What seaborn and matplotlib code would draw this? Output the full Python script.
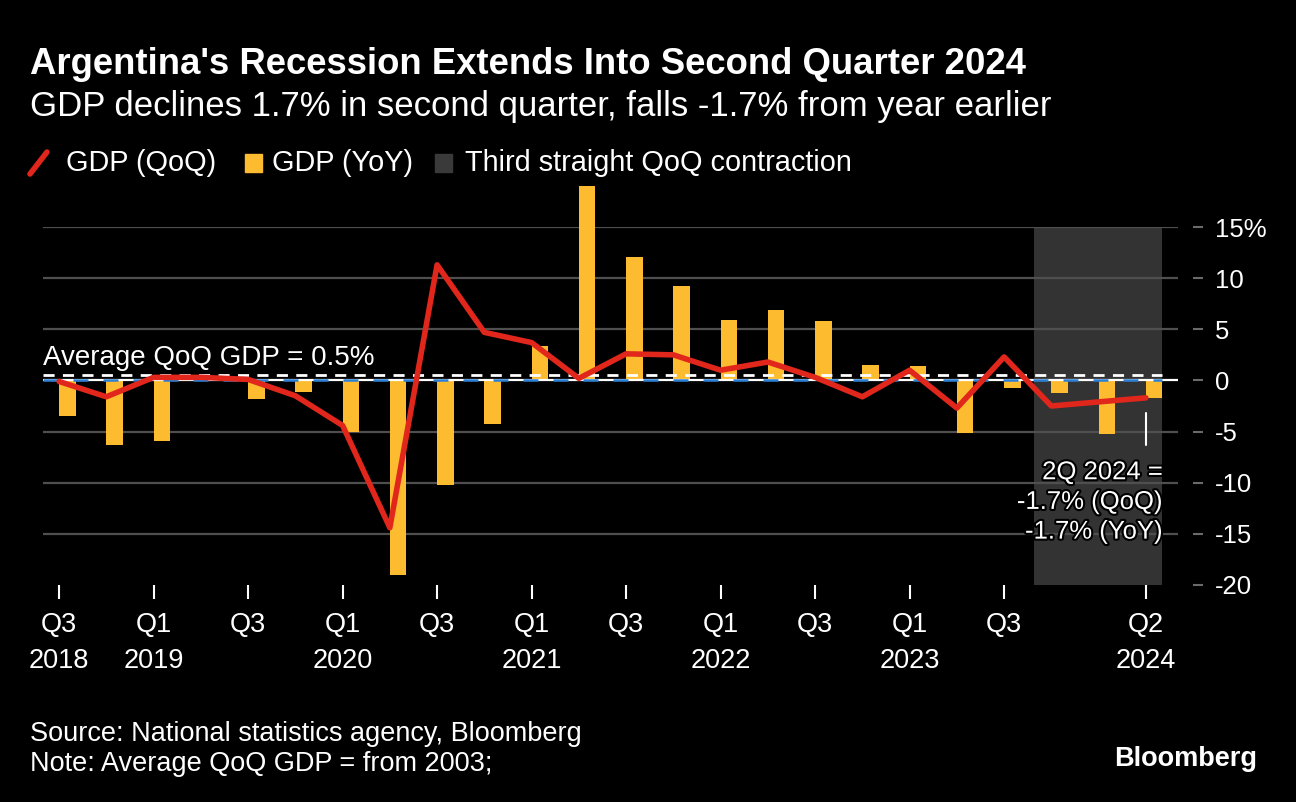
import numpy as np
import pandas as pd
import matplotlib
matplotlib.use("Agg")
import matplotlib.pyplot as plt
import matplotlib.patheffects as pe
from matplotlib.patches import Rectangle
from matplotlib.lines import Line2D
import seaborn as sns

# ---------------- data ----------------
quarters = ["Q3 2018", "Q4 2018", "Q1 2019", "Q2 2019", "Q3 2019", "Q4 2019",
            "Q1 2020", "Q2 2020", "Q3 2020", "Q4 2020", "Q1 2021", "Q2 2021",
            "Q3 2021", "Q4 2021", "Q1 2022", "Q2 2022", "Q3 2022", "Q4 2022",
            "Q1 2023", "Q2 2023", "Q3 2023", "Q4 2023", "Q1 2024", "Q2 2024"]
gdp_yoy = [-3.5, -6.3, -5.9, 0.3, -1.8, -1.1, -5.0, -19.0, -10.2, -4.3, 3.4, 19.0,
           12.1, 9.2, 5.9, 6.9, 5.8, 1.5, 1.4, -5.1, -0.75, -1.2, -5.2, -1.7]
gdp_qoq = [-0.1, -1.6, 0.3, 0.3, 0.1, -1.5, -4.4, -14.4, 11.3, 4.7, 3.7, 0.2,
           2.6, 2.5, 1.0, 1.8, 0.3, -1.6, 1.0, -2.7, 2.3, -2.5, -2.1, -1.7]
avg_qoq = 0.5
shade_range = (20.63, 23.34)   # Third straight QoQ contraction
xtick_pos = [0, 2, 4, 6, 8, 10, 12, 14, 16, 18, 20, 23]
xtick_labels = ["Q3\n2018", "Q1\n2019", "Q3", "Q1\n2020", "Q3", "Q1\n2021", "Q3",
                "Q1\n2022", "Q3", "Q1\n2023", "Q3", "Q2\n2024"]
ytick_vals = [15, 10, 5, 0, -5, -10, -15, -20]
ytick_labels = ["15%", "10", "5", "0", "-5", "-10", "-15", "-20"]
grid_vals = [15, 10, 5, -5, -10, -15]

title = "Argentina's Recession Extends Into Second Quarter 2024"
subtitle = "GDP declines 1.7% in second quarter, falls -1.7% from year earlier"
legend_labels = ["GDP (QoQ)", "GDP (YoY)", "Third straight QoQ contraction"]
annot = "2Q 2024 =\n-1.7% (QoQ)\n-1.7% (YoY)"
source = "Source: National statistics agency, Bloomberg"
note = "Note: Average QoQ GDP = from 2003;"

# ---------------- style ----------------
RED = "#E1261C"
YELLOW = "#FDBB30"
SHADE = "#333333"
GRID = "#4f4f4f"
BLUE = "#2a7fd4"

sns.set_theme(style="dark")
plt.rcParams["font.family"] = ["Liberation Sans", "DejaVu Sans"]
plt.rcParams["axes.facecolor"] = "black"
plt.rcParams["figure.facecolor"] = "black"

W, H = 1296, 802
fig = plt.figure(figsize=(W / 100, H / 100), dpi=100)


def fx(px):
    return px / W


def fy(py):
    return 1 - py / H


ax = fig.add_axes([fx(43), fy(585), (1178 - 43) / W, (585 - 227) / H])
ax.set_facecolor("black")

idx = np.arange(len(quarters))
df = pd.DataFrame({"idx": idx, "quarter": quarters, "yoy": gdp_yoy, "qoq": gdp_qoq})

# bars
bw = 0.35
sns.barplot(data=df, x="idx", y="yoy", native_scale=True, width=bw, color=YELLOW,
            saturation=1, errorbar=None, ax=ax, zorder=2)
for cont in ax.containers:
    for p in cont:
        p.set_x(p.get_x() + bw / 2)
        p.set_clip_on(False)
        p.set_linewidth(0)

# shaded region
ax.axvspan(shade_range[0], shade_range[1], color=SHADE, zorder=0, lw=0)

# gridlines
for g in grid_vals:
    ax.axhline(g, color=GRID, lw=1.6, zorder=1)

# zero line and average line
ax.axhline(0, color="white", lw=1.6, zorder=3)
ax.plot([-0.34, 23.34], [0, 0], color=BLUE, lw=1.8, dashes=(6, 6), zorder=3.1)
ax.plot([-0.34, 23.34], [avg_qoq, avg_qoq], color="white", lw=2.0, dashes=(4, 3), zorder=3.2)
ax.text(0 - 0.34, avg_qoq + 1.0, f"Average QoQ GDP = {avg_qoq}%", color="white",
        fontsize=20, ha="left", va="baseline", zorder=5)

# QoQ line
sns.lineplot(data=df, x="idx", y="qoq", color=RED, lw=4.0, ax=ax, zorder=4)

# annotation
last = len(quarters) - 1
ax.plot([last, last], [-3.2, -6.3], color="white", lw=1.5, zorder=5)
ax.text(last + 0.36, -7.8, annot, color="white", fontsize=18.5, ha="right", va="top",
        linespacing=1.3, zorder=6,
        path_effects=[pe.withStroke(linewidth=3, foreground="black")])

# axes limits / ticks
ax.set_xlim(-0.34, 23.68)
ax.set_ylim(-20, 15)
ax.set_xlabel("")
ax.set_ylabel("")
for s in ax.spines.values():
    s.set_visible(False)
ax.set_xticks(xtick_pos)
ax.set_xticklabels(xtick_labels, color="white", fontsize=19.5, linespacing=1.5)
ax.tick_params(axis="x", length=10, width=1.5, color="white", pad=9.5, direction="out",
               bottom=True)
ax.yaxis.tick_right()
ax.spines["right"].set_position(("outward", 11))
ax.set_yticks(ytick_vals)
ax.set_yticklabels(ytick_labels, color="white", fontsize=18.5)
ax.tick_params(axis="y", length=7.5, width=1.5, color="#6a6a6a", pad=8, direction="out",
               right=True, left=False)
ax.grid(False)

# ---------------- titles ----------------
fig.text(fx(30), fy(74), title, color="white", fontsize=26.3, fontweight="bold",
         ha="left", va="baseline")
fig.text(fx(30), fy(116), subtitle, color="white", fontsize=25, ha="left",
         va="baseline")

# ---------------- legend ----------------
ly = 163
fig.add_artist(Line2D([fx(30), fx(47)], [fy(ly + 11), fy(ly - 11)], color=RED, lw=4,
                      transform=fig.transFigure))
fig.text(fx(66), fy(ly + 8), legend_labels[0], color="white", fontsize=20.8, va="baseline")
fig.add_artist(Rectangle((fx(245), fy(ly + 9)), 17 / W, 18 / H, color=YELLOW,
                         transform=fig.transFigure))
fig.text(fx(272), fy(ly + 8), legend_labels[1], color="white", fontsize=20.8, va="baseline")
fig.add_artist(Rectangle((fx(435), fy(ly + 9)), 17 / W, 18 / H, color="#3a3a3a",
                         transform=fig.transFigure))
fig.text(fx(465), fy(ly + 8), legend_labels[2], color="white", fontsize=20.8, va="baseline")

# ---------------- footer ----------------
fig.text(fx(30), fy(741), source, color="white", fontsize=19.5, va="baseline")
fig.text(fx(30), fy(771), note, color="white", fontsize=19.5, va="baseline")
fig.text(fx(1257), fy(766), "Bloomberg", color="white", fontsize=19.5, fontweight="bold",
         ha="right", va="baseline")

fig.savefig("out.png", dpi=100, facecolor="black")
